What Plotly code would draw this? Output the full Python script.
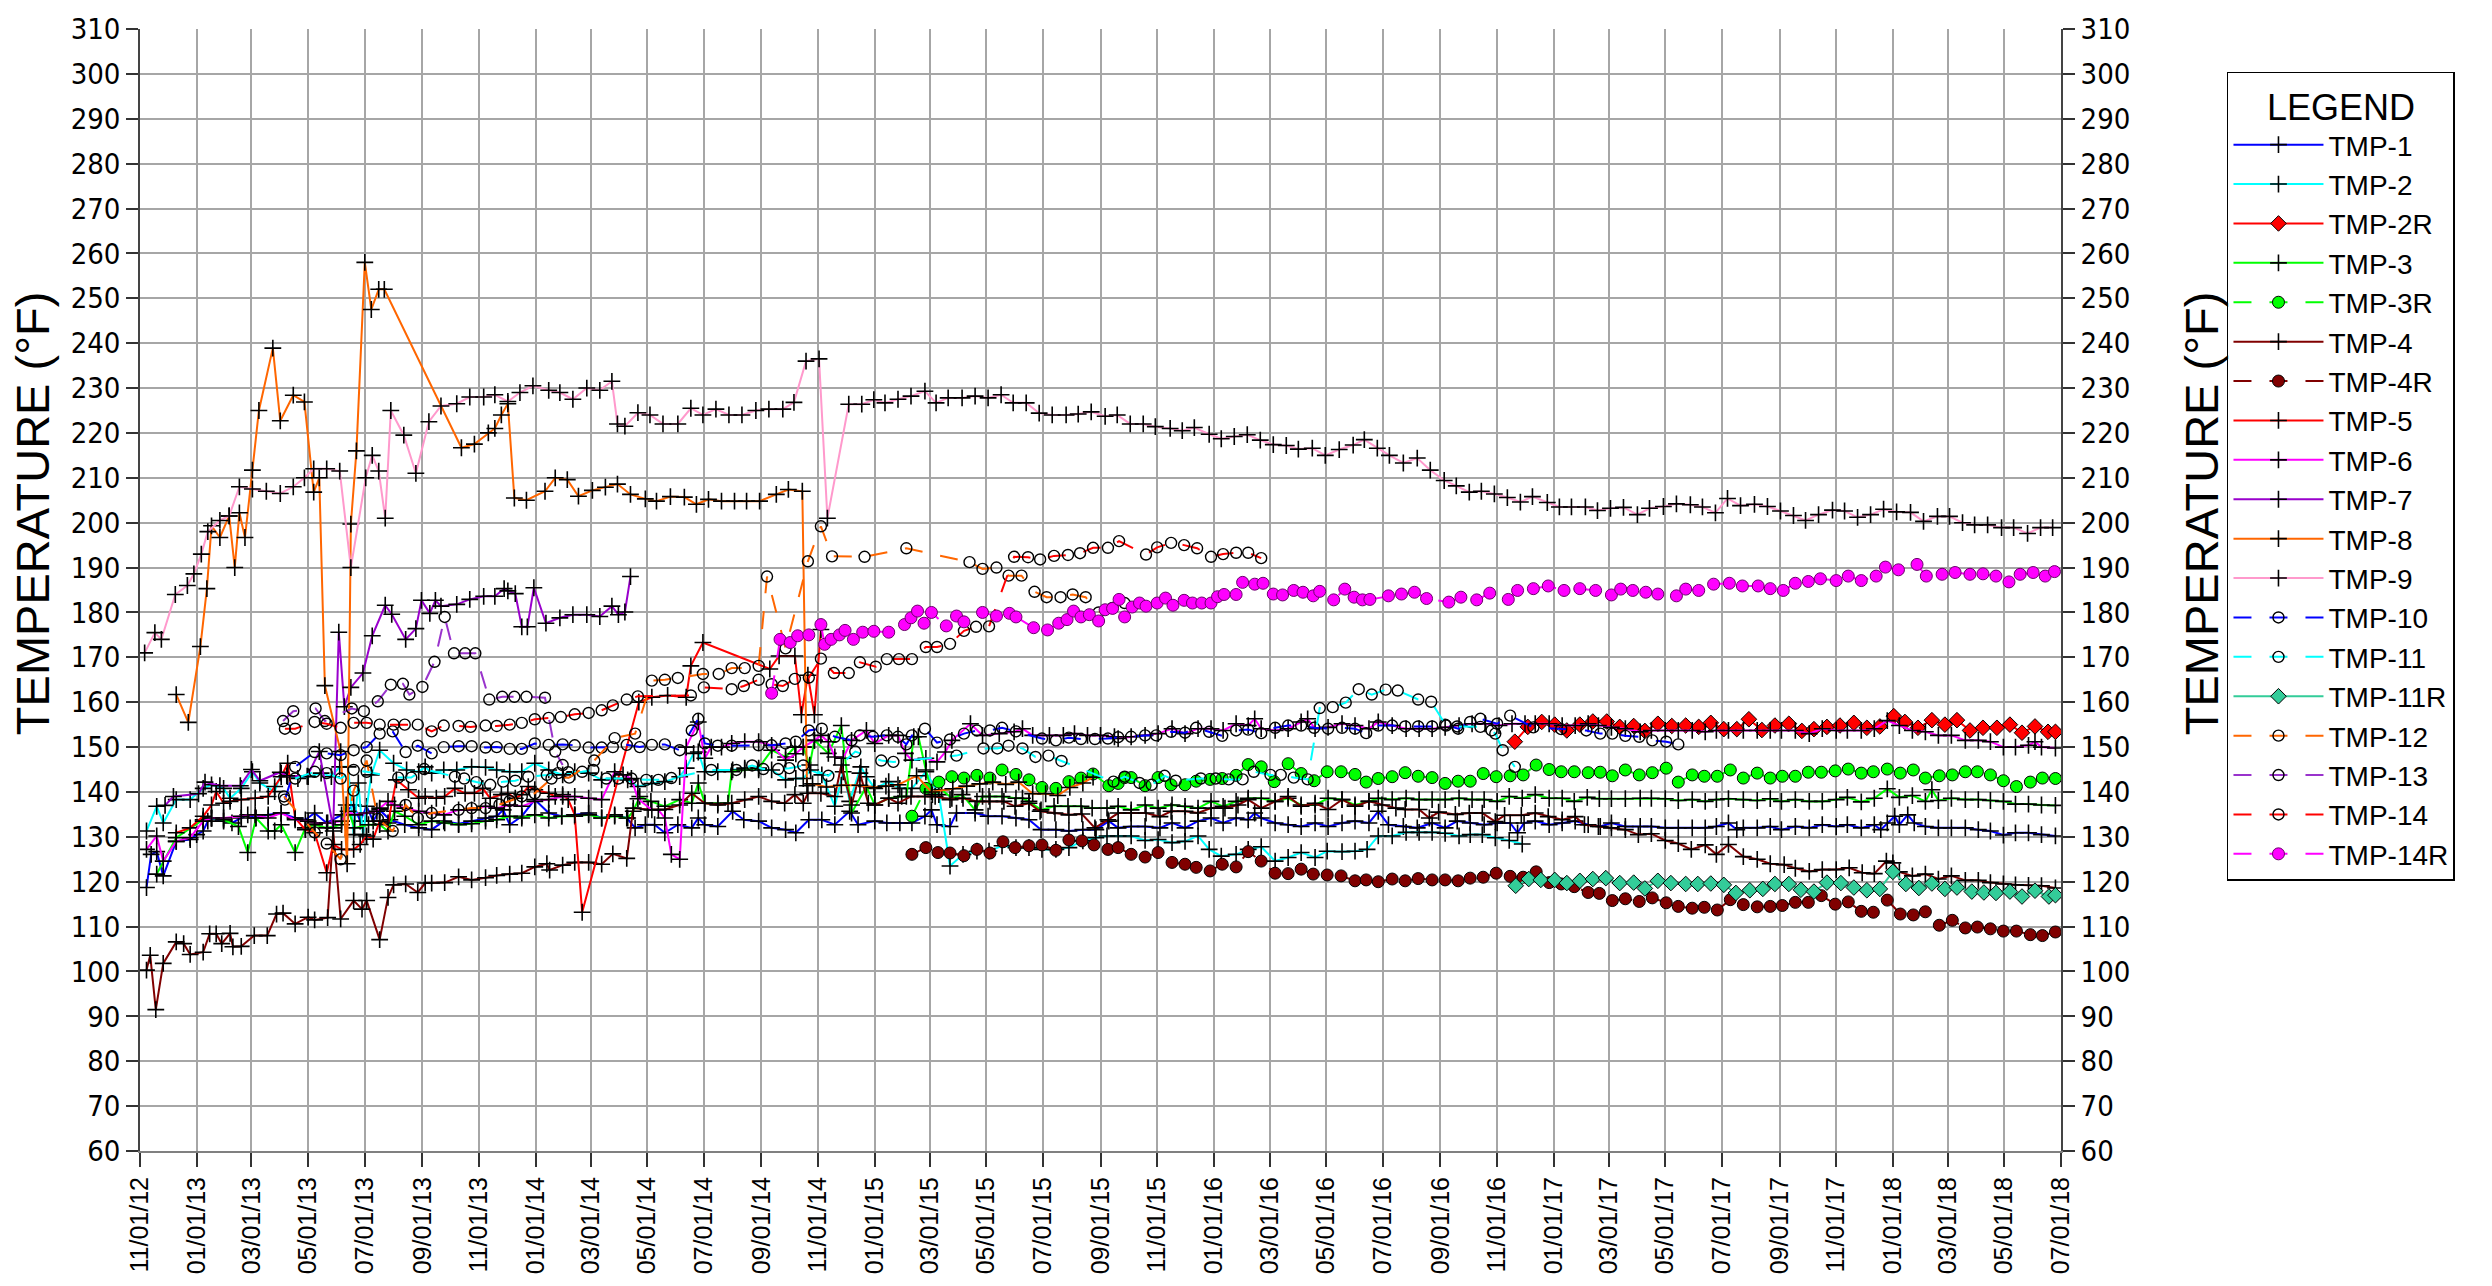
import pandas as pd
import plotly.graph_objects as go

# Elapsed days are counted from the first reading on 11/01/12.
BASE_DATE = pd.Timestamp("2012-11-01")

# ---- readings: (elapsed days, temperature in deg F) ----
TMP_1 = [(7,118.7),(12,126.1),(18,126.7),(25,121.3),(39,129),(54,129.4),(61,130.5),(68,131.3),(73,133.5),(77,134.1),(90,133.5),(99,133.1),(109,134.2),(116,134.9),(124,134.2),(138,134.9),(152,135.3),(167,134.2),(178,133.8),(188,135.3),(201,133.1),(217,134.9),(230,137.1),(237,133.5),(244,136.8),(251,133.5),(258,136),(269,133.8),(285,132.7),(300,132),(314,131.6),(327,133.5),(343,132.9),(357,133.5),(372,134.2),(384,134.6),(391,136),(398,132.7),(411,134.6),(425,138.3),(440,135.3),(454,134.6),(468,134.9),(483,135.3),(497,134.2),(511,134.9),(524,134.2),(533,132),(544,132.7),(554,132.7),(565,130.9),(579,132.7),(594,132),(601,134.2),(608,132.7),(622,132.3),(638,135.7),(650,133.8),(666,133.5),(680,132),(695,131.6),(706,130.9),(720,133.8),(734,133.8),(748,132.7),(764,135.7),(773,132.7),(791,133.5),(804,133.1),(818,133.1),(831,133.1),(845,134.6),(852,136),(858,132.7),(872,132.3),(879,135.3),(899,135.3),(913,134.6),(928,134.6),(943,134.2),(957,133.8),(970,131.6),(986,131.6),(1000,131.3),(1015,131.6),(1029,131.6),(1043,133.5),(1053,132),(1067,132.3),(1082,132.3),(1098,132),(1111,133.1),(1125,132),(1139,133.5),(1153,134.2),(1166,133.1),(1180,134.2),(1193,133.8),(1200,135.3),(1207,134.2),(1222,133.1),(1236,132.7),(1250,132.3),(1265,133.1),(1279,132.3),(1294,133.1),(1308,133.5),(1323,133.1),(1333,135.7),(1344,132.7),(1360,132.3),(1375,132),(1391,133.1),(1405,132),(1418,133.5),(1432,133.1),(1447,132.7),(1461,133.1),(1475,133.1),(1483,130.9),(1490,133.1),(1502,133.5),(1517,132.7),(1531,133.1),(1545,133.5),(1559,132.7),(1572,132.3),(1584,133.1),(1599,132.3),(1615,132.3),(1627,132.3),(1642,132),(1656,132),(1671,132),(1685,132),(1697,132.3),(1710,133.1),(1719,131.6),(1726,132),(1741,132),(1755,132.3),(1767,131.6),(1782,132.3),(1797,132),(1811,132.7),(1826,132.3),(1838,132.7),(1853,132),(1867,132.7),(1874,131.6),(1881,133.1),(1889,134.6),(1894,132.7),(1903,134.9),(1910,133.1),(1922,132.3),(1936,132),(1950,132),(1965,132),(1979,131.6),(1992,131.3),(2006,130.4),(2019,130.9),(2033,130.9),(2047,130.5),(2062,130.2)]

TMP_2 = [(7,131.3),(18,136.8),(25,133.1),(39,138.3),(54,138.3),(68,140.8),(77,141.6),(90,140.8),(97,138.6),(109,140.8),(121,144.5),(129,142),(145,140.1),(152,144.2),(159,143.4),(170,143),(181,143.4),(195,144.2),(206,143.4),(215,145.6),(224,145.6),(230,130.5),(235,142),(240,130.5),(249,143.8),(258,149.3),(273,146.4),(287,144.9),(300,144.5),(307,145.6),(314,144.2),(327,144.9),(341,144.9),(357,145.6),(372,145.5),(384,144.9),(398,144.5),(411,144.5),(425,146.4),(440,144.9),(455,143.8),(468,144.5),(483,144.2),(497,142.7),(511,143),(525,142.7),(536,141.2),(551,141.9),(565,142.3),(581,143.4),(588,145.3),(596,148.6),(601,148.9),(608,144.5),(622,144.5),(638,144.9),(651,145.3),(666,144.9),(680,144.9),(695,142.7),(706,143),(714,143),(722,144.9),(734,143.8),(748,136.8),(757,144.5),(764,137.9),(776,145.6),(782,143.4),(791,140.8),(806,142.3),(818,140.8),(831,140.8),(846,144.5),(860,139.4),(872,123.5),(886,126.1),(901,126.8),(914,126.8),(928,128),(943,127.6),(957,127.6),(971,127.2),(986,127.2),(1000,127.6),(1015,129.1),(1029,129.8),(1041,130.2),(1053,130.2),(1067,130.2),(1082,129.2),(1096,129.4),(1111,128.7),(1125,129),(1139,130.2),(1151,127.2),(1164,125.7),(1180,126.1),(1193,127.2),(1207,127.8),(1222,124.6),(1236,125.4),(1250,126.5),(1265,125.4),(1278,126.8),(1294,126.7),(1308,126.8),(1321,127.2),(1333,130.2),(1348,130.2),(1363,131),(1377,131),(1391,131),(1405,130.8),(1420,130.2),(1432,130.5),(1445,130.5),(1459,129.8),(1474,129.2),(1488,128.4)]

TMP_2R = [(1480,151.2),(1494,154.5),(1509,155.6),(1523,155),(1536,153.7),(1550,155),(1564,155.7),(1579,155.7),(1593,154.5),(1608,154.7),(1620,153.6),(1634,155.2),(1649,154.7),(1664,154.8),(1678,154.5),(1691,155.4),(1705,154),(1719,154),(1732,156.2),(1746,153.8),(1760,154.8),(1775,155.2),(1789,153.6),(1802,154),(1816,154.5),(1830,154.8),(1845,155.4),(1859,154.3),(1873,154.6),(1888,156.9),(1900,155.6),(1914,154.3),(1929,156),(1943,155),(1956,156),(1970,153.7),(1984,154.3),(1999,154.3),(2013,155),(2026,153.2),(2040,154.6),(2054,153.4),(2062,153.4)]

TMP_3 = [(18,121.7),(39,129.8),(68,133.8),(77,134.2),(90,133.8),(106,132.3),(116,126.5),(125,134.2),(138,131.3),(145,131.3),(152,132.7),(167,126.5),(178,132),(188,132.7),(201,132),(217,132.7),(222,137.1),(231,132),(246,132.7),(258,132.7),(267,131.3),(274,135.7),(285,134.6),(300,132.7),(314,133.5),(328,133.1),(343,132.7),(357,132.9),(372,133.5),(384,133.8),(398,134.6),(411,134.2),(425,134.9),(440,134.2),(454,134.6),(468,134.6),(483,134.9),(497,134.2),(511,134.6),(525,134.2),(531,135.7),(538,139),(550,137.9),(565,136.8),(581,138.3),(594,137.5),(601,142),(608,137.5),(622,137.5),(633,137.5),(637,144.5),(651,144.9),(666,145.3),(680,149.3),(695,147.8),(705,150),(714,150),(721,146),(726,151.5),(741,148.6),(755,154.8),(766,135.3),(782,141.2),(791,137.1),(806,138.6),(820,139),(825,139),(833,152.3),(838,152.3),(846,144.9),(853,139.4),(863,140.5),(874,138.6),(885,139.4),(899,136),(907,139),(914,139),(928,139),(943,138.6),(950,138.6),(957,137.9),(970,136),(984,136.8),(999,136.8),(1013,136.8),(1025,136.4),(1041,136.4),(1053,136.8),(1067,136),(1082,137.1),(1096,136.4),(1111,137.1),(1125,136.8),(1139,136.4),(1153,137.9),(1166,136.8),(1180,137.9),(1193,138.6),(1207,138.6),(1222,137.9),(1236,138.6),(1250,137.1),(1265,137.1),(1279,138.6),(1294,138.3),(1308,137.1),(1323,137.9),(1333,138.6),(1348,138.3),(1363,138.6),(1377,138.3),(1391,138.3),(1405,138.3),(1420,138.6),(1434,138.3),(1447,138.3),(1461,137.9),(1474,139),(1488,138.6),(1502,139.4),(1517,138.6),(1531,138.6),(1544,137.9),(1558,138.8),(1571,138.5),(1584,138.5),(1599,138.5),(1615,138.6),(1627,138.6),(1642,138.5),(1656,138.1),(1671,138.3),(1685,137.9),(1697,138.3),(1710,138.5),(1726,138.3),(1741,138.1),(1755,138.5),(1767,137.9),(1782,138.3),(1797,137.9),(1811,137.9),(1826,138.3),(1838,138.8),(1853,137.8),(1867,138.6),(1881,140.7),(1894,138.8),(1908,139.2),(1922,137.9),(1929,140.5),(1936,138.1),(1950,138.6),(1965,138.3),(1979,138.3),(1992,138.1),(2006,137.9),(2019,137.3),(2033,137.3),(2047,137.1),(2062,137)]

TMP_3R = [(831,134.6),(846,140.8),(860,142.2),(874,143.4),(887,143.1),(901,143.7),(915,143.1),(928,144.9),(943,143.9),(957,142.7),(971,141),(986,140.8),(1000,142.3),(1013,143.1),(1026,144),(1043,141.4),(1053,141.9),(1060,143.2),(1067,143.2),(1082,141.4),(1096,143.2),(1110,141.6),(1125,141.6),(1137,142.4),(1152,142.8),(1165,143),(1180,143.7),(1193,146.1),(1207,145.6),(1221,142.3),(1236,146.3),(1250,144.1),(1264,142.5),(1278,144.5),(1293,144.5),(1308,143.9),(1320,142.2),(1333,143),(1348,143.4),(1362,144.3),(1376,143.5),(1391,143.2),(1405,141.9),(1419,142.4),(1432,142.4),(1446,144.1),(1460,143.4),(1475,143.6),(1489,143.8),(1503,146),(1517,145),(1530,144.5),(1544,144.5),(1559,144.3),(1572,144.4),(1585,143.6),(1599,144.9),(1614,143.8),(1628,144.3),(1643,145.3),(1656,142.2),(1671,143.8),(1684,143.5),(1698,143.5),(1712,144.9),(1726,143.1),(1741,144.2),(1755,143.1),(1768,143.5),(1782,143.5),(1796,144.4),(1810,144.4),(1825,144.7),(1839,145.1),(1853,144.2),(1866,144.5),(1881,145.1),(1895,144.2),(1909,144.9),(1922,143.1),(1937,143.6),(1951,143.8),(1965,144.5),(1978,144.5),(1992,143.8),(2006,142.5),(2020,141.2),(2035,142.2),(2048,143.1),(2062,143)]

TMP_4 = [(7,100.3),(11,103.6),(17,91.5),(25,101.8),(39,106.6),(47,106.2),(54,103.8),(68,104.3),(75,108.4),(82,108.4),(88,106.2),(97,108.5),(100,105.5),(109,105.6),(123,108),(137,108),(147,112.8),(154,113),(167,110.6),(181,112.1),(188,111.5),(202,112),(208,131.3),(216,111.7),(230,115.8),(239,113.9),(244,115.8),(258,107.1),(267,116.5),(273,119.3),(286,119.5),(299,117.6),(307,119.7),(314,119.7),(328,119.8),(343,121.1),(357,120.4),(372,120.9),(384,121.4),(398,121.7),(411,121.9),(425,123.3),(438,124),(441,122.6),(455,123.7),(468,124.3),(483,124.3),(497,123.9),(509,126.2),(524,125.2),(531,136.4),(547,136.1),(565,136.1),(581,137.1),(594,139.7),(608,137.5),(622,137.1),(637,137.5),(651,138.3),(666,139),(680,137.9),(694,137.5),(705,139.4),(714,137.5),(719,139.7),(733,139.7),(748,139),(755,146),(766,137.1),(775,144.2),(784,137.5),(791,137.1),(806,138.6),(816,137.5),(830,139),(845,139),(856,139),(872,138.3),(886,138.6),(901,137.9),(915,137.9),(930,137.9),(942,136.8),(957,137.5),(969,135.7),(985,135.3),(1000,134.9),(1014,135.1),(1028,132),(1042,133.8),(1053,135.3),(1067,135.3),(1083,135.3),(1098,134.5),(1110,135.7),(1125,135.7),(1139,135.3),(1153,136.4),(1168,136.4),(1182,137.1),(1193,138.3),(1207,136.4),(1222,137.9),(1236,139),(1250,136.8),(1265,137.5),(1279,136.1),(1294,138.3),(1308,136.8),(1323,137.9),(1337,137.1),(1352,136.4),(1362,136.1),(1377,136.1),(1388,134.2),(1398,135.5),(1416,135),(1431,135.3),(1445,135.3),(1459,133.4),(1469,134.8),(1487,134.8),(1502,135.3),(1516,134.5),(1531,133.8),(1545,134.5),(1555,132.7),(1570,132.3),(1584,132),(1599,131.6),(1613,130.5),(1627,130.7),(1642,129.2),(1656,128.5),(1670,127.2),(1685,128.2),(1697,126.1),(1710,128.3),(1726,125.6),(1741,125),(1755,124),(1770,123.8),(1782,123),(1797,122.3),(1811,122.7),(1826,122.7),(1840,123.1),(1854,122),(1867,121.8),(1880,124.6),(1887,124.2),(1894,122.2),(1908,121.3),(1922,121.7),(1936,120.6),(1950,121.3),(1965,120.3),(1979,120.3),(1992,119.8),(2006,119.5),(2019,119.3),(2033,119.2),(2047,119.1),(2062,118.6)]

TMP_4R = [(831,126.1),(846,127.6),(859,126.5),(872,126.4),(887,125.8),(901,127.2),(915,126.4),(929,128.9),(942,127.6),(957,128),(971,128.2),(986,127),(1000,129.3),(1014,129.1),(1027,128.2),(1042,127.2),(1053,127.6),(1067,126.1),(1082,125.5),(1096,126.5),(1111,124.3),(1125,123.9),(1137,123.2),(1152,122.4),(1165,123.9),(1180,123.3),(1193,126.7),(1207,124.6),(1222,121.9),(1236,121.8),(1250,122.8),(1263,121.7),(1278,121.5),(1293,121.3),(1308,120.2),(1320,120.4),(1333,120),(1348,120.6),(1362,120.2),(1376,120.7),(1391,120.4),(1405,120.4),(1419,120.2),(1432,120.8),(1446,121),(1460,121.9),(1475,121.2),(1489,121),(1503,122.2),(1517,119.8),(1530,119.5),(1544,118.9),(1559,117.6),(1571,117.4),(1585,115.8),(1599,116.2),(1614,115.6),(1628,116.4),(1643,115.3),(1656,114.5),(1671,114.1),(1684,114.3),(1698,113.7),(1712,116),(1726,114.9),(1741,114.4),(1755,114.5),(1768,114.7),(1782,115.4),(1796,115.4),(1810,116.9),(1825,115),(1839,115.5),(1853,113.4),(1866,113.2),(1881,115.9),(1895,112.8),(1909,112.6),(1922,113.3),(1937,110.3),(1951,111.4),(1965,109.7),(1978,109.9),(1992,109.5),(2006,109),(2020,109),(2035,108.2),(2048,108),(2062,108.8)]

TMP_5 = [(39,130.9),(54,132),(68,134.6),(77,137.1),(82,140.1),(90,137.5),(97,137.9),(109,138.3),(124,138.6),(138,139),(145,141.2),(152,143.4),(159,146.4),(167,134.2),(178,131.6),(188,130.9),(201,122),(208,128.3),(217,127.2),(230,127.2),(237,128.3),(244,130.2),(251,129.5),(258,133.5),(267,133.1),(276,142.7),(289,140.5),(300,138.6),(307,139),(319,138.6),(328,139),(339,140.8),(350,139.7),(360,139.7),(369,140.8),(377,138.6),(389,139.4),(396,139.7),(404,138.6),(411,139.4),(418,141.2),(425,140.5),(440,139.7),(447,139),(455,139.4),(461,138.3),(468,134.9),(476,113.2),(537,160),(551,161.1),(568,161.5),(588,161.1),(593,168.1),(606,173.3),(678,167.4),(688,170.3),(705,170.3),(712,157.2),(719,166),(726,157.2),(733,176.2)]

TMP_6 = [(7,127.2),(18,130.2),(25,124.6),(39,129),(54,129.8),(68,133.5),(77,134.2),(90,134.2),(109,134.6),(124,134.9),(138,134.2),(152,135.3),(167,133.8),(181,133.5),(188,133.1),(202,133.1),(217,133.5),(224,135.7),(231,134.9),(244,135.3),(255,135.7),(258,136.4),(267,137.9),(274,137.1),(285,136.4),(300,135.7),(314,135.3),(327,134.9),(343,136),(357,136),(372,136.8),(384,136.4),(398,137.1),(411,136.8),(425,137.9),(440,138.3),(455,139),(468,139),(483,138.6),(497,138.3),(511,144.5),(520,143.8),(529,143),(536,138.5),(551,136),(558,136),(565,134.2),(572,126.1),(581,125),(588,150),(601,155.6),(608,147.5),(615,150),(626,150),(637,150.8),(651,151.2),(666,151.2),(680,150.4),(695,147.1),(706,148.5),(714,150),(726,151.5),(733,152.6),(741,151.2),(748,147.8),(757,147.5),(766,151.5),(782,153.7),(791,150.8),(806,152.6),(816,152.6),(824,148.6),(831,147.1),(846,147.5),(858,146.7),(867,148.9),(874,151.5),(894,155.2),(907,152.6),(925,153),(941,153.4),(950,154.1),(961,152.6),(979,152.6),(994,152.6),(1006,153),(1020,152.6),(1034,152.6),(1049,152.3),(1053,151.9),(1067,152.3),(1082,152.6),(1096,153),(1111,154.1),(1125,153),(1139,154.1),(1153,154.1),(1166,153.7),(1180,155.2),(1193,154.8),(1200,156.3),(1207,154.1),(1222,153.7),(1236,154.1),(1250,155.6),(1257,156.3),(1265,154.1),(1279,154.4),(1294,155.2),(1308,154.8),(1323,154.1),(1333,155.6),(1348,154.8),(1363,154.1),(1377,154.1),(1391,154.1),(1405,154.4),(1420,154.8),(1434,155.2),(1448,155.2),(1463,154.8),(1477,155.2),(1491,155.2),(1502,155.2),(1517,155.2),(1531,154.8),(1545,154.8),(1559,155.2),(1570,154.8),(1584,154.4),(1599,154.1),(1615,153.4),(1627,153.7),(1642,153.7),(1656,153.7),(1671,153.7),(1685,153.4),(1697,153.7),(1710,153.7),(1726,153.7),(1741,153.7),(1755,153.7),(1767,153.7),(1782,153.7),(1797,153),(1811,154.1),(1826,153.7),(1838,153.7),(1853,153.7),(1867,154.1),(1881,155.9),(1894,154.8),(1908,153.7),(1922,153.4),(1936,152.6),(1950,152.6),(1965,151.5),(1979,151.5),(1992,151.2),(2006,150),(2019,150),(2033,150.4),(2040,151.2),(2047,150),(2062,149.8)]

TMP_7 = [(27,137),(36,139),(63,139.6),(70,142.2),(86,141.4),(108,141.4),(120,145),(129,142.5),(151,144.4),(158,143.6),(180,143.5),(193,149),(208,132),(214,175.6),(220,159),(227,163.3),(240,166.5),(250,174.8),(264,181.6),(271,179.6),(286,174),(297,176.4),(303,182.7),(312,179.8),(318,182.7),(324,181.4),(341,181.8),(355,182.9),(370,183.6),(382,183.6),(392,185.3),(396,184.8),(404,184.2),(411,176.8),(417,176.8),(424,185.5),(437,177.6),(452,178.8),(466,179.5),(481,179.5),(495,179.1),(508,181.4),(515,179.5),(522,180.1),(528,188)]

TMP_8 = [(39,161.7),(52,155.5),(65,172.4),(72,185.3),(77,199.3),(86,196.7),(96,201.5),(102,190),(107,202.2),(113,196.7),(121,211.7),(128,225),(143,238.9),(151,222.7),(165,228.4),(177,226.9),(187,206.8),(193,210),(199,163.7),(216,149),(223,124),(227,199.7),(233,216),(242,258),(249,247.5),(257,252),(263,252),(346,216.7),(360,217.5),(375,220),(382,221),(389,224),(396,226.5),(403,205.5),(416,205),(436,207),(447,210),(460,209.6),(472,205.9),(487,207.2),(501,207.9),(514,208.6),(528,206.3),(544,205.3),(556,204.8),(571,205.8),(586,205.7),(599,204.1),(612,205.2),(626,204.8),(640,204.8),(653,204.8),(667,204.8),(685,206.3),(698,207.4),(713,207),(718,141.4),(724,141.8),(739,141.1),(755,141.5),(775,141.5),(790,141),(803,141.3),(816,141.6),(836,143.6),(852,140),(875,140.7),(890,141.3),(904,141.8),(918,142.2),(932,141.7),(946,142.2),(961,139.6),(975,139.6),(988,139.2),(1001,141),(1015,142),(1026,143.3)]

TMP_9 = [(5,171),(16,175.5),(23,174),(38,184),(51,186),(58,188.6),(66,193),(73,198),(86,200.5),(96,201.5),(107,208),(121,207.5),(136,207),(151,206.5),(165,208),(177,210),(187,212),(201,212),(215,211.5),(227,190),(243,210),(250,215),(257,211.5),(264,201),(270,225),(284,219.5),(297,211),(311,222.5),(324,226),(341,226.5),(355,228),(370,228),(382,228.5),(396,227),(409,229),(423,230.5),(440,229.5),(452,229),(466,227.5),(481,230),(495,229.5),(508,231.5),(514,222),(522,221.5),(536,224.5),(549,224),(563,222),(579,222),(593,225.5),(606,224),(620,225.3),(634,224),(648,224),(663,225),(677,225.3),(692,225.3),(704,226.8),(717,236),(731,236.5),(740,201),(763,226.4),(777,226.4),(790,227.4),(802,226.7),(816,227.5),(830,228.2),(845,229.3),(857,226.7),(870,227.8),(885,227.8),(899,228.2),(913,227.8),(927,228.5),(940,226.7),(954,226.7),(968,224.4),(982,224),(997,224),(1010,224.2),(1024,224.7),(1039,223.7),(1052,224),(1066,222),(1080,222),(1093,221.4),(1109,221),(1122,220.5),(1135,221.2),(1151,219.7),(1164,218.7),(1178,219.2),(1192,219.6),(1206,218.4),(1220,217.4),(1234,217.2),(1247,216.4),(1262,216.6),(1276,215),(1291,216.3),(1306,217.3),(1318,218.5),(1332,216.6),(1345,215),(1360,213.3),(1375,214.4),(1389,211.7),(1404,209.4),(1417,208.2),(1431,206.8),(1444,207),(1458,206.4),(1472,205.6),(1486,204.6),(1499,205.8),(1515,204.5),(1528,203.5),(1541,203.5),(1556,203.5),(1569,202.7),(1583,203.2),(1597,203.4),(1612,201.8),(1625,203.2),(1640,203.6),(1654,204.2),(1669,204),(1682,203.5),(1696,202.2),(1709,205.4),(1723,203.8),(1738,204.1),(1752,203.6),(1766,202.6),(1780,201.6),(1793,200.5),(1807,201.8),(1822,202.8),(1835,202.6),(1849,201.2),(1863,201.8),(1877,203),(1891,202.4),(1906,202.3),(1920,200.3),(1935,201.4),(1948,201.4),(1962,200),(1975,199.5),(1989,199.5),(2004,198.9),(2017,198.9),(2032,197.6),(2046,198.9),(2059,198.9)]

TMP_10 = [(156,138.3),(167,145.6),(188,148.9),(201,148.6),(216,148.2),(230,149.3),(244,150),(258,153),(272,153.5),(286,148.9),(299,150.3),(314,148.6),(327,150),(343,150.2),(357,150.2),(372,149.9),(384,150),(398,149.6),(411,149.6),(425,150.8),(440,150.5),(455,150.6),(468,150.4),(483,149.9),(497,149.9),(509,150),(524,150.5),(538,150),(551,150.5),(565,150.6),(581,149.3),(594,153.7),(601,156.3),(608,150.8),(622,150.3),(637,150.3),(666,150.4),(680,150.4),(695,150.8),(706,151.2),(720,153.7),(734,154.1),(748,152.3),(766,151.5),(775,152.6),(789,152.3),(804,152.6),(816,152.3),(825,150.6),(831,152.6),(845,154.1),(858,151),(872,151.7),(887,153),(901,153.7),(915,153.7),(928,154.3),(943,153.5),(971,151.9),(986,151.5),(1000,152.1),(1013,151.8),(1028,151.8),(1042,151.9),(1053,152.2),(1067,152.3),(1082,152.6),(1094,152.6),(1110,153.4),(1125,153.2),(1137,154.3),(1151,153.4),(1165,152.5),(1180,153.7),(1193,153.9),(1207,153.1),(1222,154.3),(1236,154.8),(1250,154.8),(1264,154.3),(1279,154.1),(1294,154.3),(1308,154.1),(1320,153.1),(1333,154.8),(1348,154.8),(1362,154.6),(1376,154.6),(1391,154.6),(1405,155),(1419,154.1),(1432,155.6),(1443,156.3),(1461,155.2),(1475,157),(1500,154.4),(1530,154),(1557,153.7),(1572,153),(1585,153),(1599,152.5),(1614,152.3),(1628,151.5),(1643,151.2),(1656,150.6)]

TMP_11 = [(167,143),(188,144.5),(201,144.2),(216,143),(230,144.9),(244,144.5),(278,143.2),(292,143.2),(306,145.1),(339,143.4),(349,143),(362,142.2),(377,141.6),(391,142.3),(404,142.5),(418,143.4),(438,143.8),(450,144.2),(461,144.4),(476,144.5),(488,144.9),(502,143),(515,143),(529,143),(545,142.7),(558,142.7),(572,143.1),(615,144.9),(642,144.9),(659,145.9),(671,145.1),(687,145.1),(699,145.3),(714,145.9),(741,143.6),(770,149),(798,147),(811,146.7),(879,148.1),(908,149.7),(923,149.7),(935,150.3),(950,149.7),(964,147.8),(978,148.1),(992,146.9),(1048,142.3),(1060,143.4),(1076,142),(1089,141.6),(1103,143.6),(1115,142.5),(1142,143),(1158,143),(1172,142.8),(1187,142.8),(1199,144.5),(1217,143.8),(1228,143.8),(1242,143.2),(1257,142.8),(1270,158.7),(1284,158.9),(1298,159.9),(1312,162.9),(1326,161.7),(1341,162.8),(1354,162.6),(1376,160.6),(1390,160.1),(1406,154.8),(1418,154.6),(1443,154.5),(1455,153.7),(1459,153),(1467,149.3),(1480,145.6)]

TMP_11R = [(1481,119.1),(1495,120.6),(1508,120.4),(1523,120.4),(1536,119.7),(1550,120.2),(1564,120.6),(1578,120.8),(1593,119.7),(1608,119.8),(1620,118.5),(1634,120.2),(1648,119.7),(1664,119.5),(1677,119.5),(1691,119.6),(1705,119.3),(1718,117.5),(1733,118.1),(1747,118.4),(1760,119.5),(1775,119.5),(1788,118.2),(1802,117.8),(1816,119.8),(1831,119.7),(1845,118.7),(1859,118.1),(1873,118.4),(1887,122.2),(1901,119.5),(1915,118.6),(1929,119.6),(1943,118.4),(1956,118.7),(1972,117.8),(1985,117.6),(1998,117.5),(2013,117.8),(2026,116.7),(2040,118),(2055,116.7),(2062,117)]

TMP_12 = [(155,139),(188,131),(201,128.5),(216,125),(230,140.3),(244,147),(256,134),(272,131.3),(286,137.1),(299,134.2),(314,135.3),(343,136),(357,136.4),(372,136.4),(387,137.2),(398,138),(411,139),(425,139.7),(443,143),(462,143.2),(489,147),(511,152),(533,153),(551,164.8),(565,165),(579,165.4),(606,166.3),(623,166.3),(637,167.6),(651,167.6),(666,168.1),(675,188),(695,172),(719,191.4),(733,199.2),(745,192.5),(780,192.4),(825,194.3),(893,191.2),(907,189.7),(922,190),(935,188.2),(949,188.2),(963,184.6),(976,183.4),(991,183.4),(1004,184),(1018,183.4),(1032,180),(1047,181),(1060,182.1)]

TMP_13 = [(154,155.8),(165,158),(189,158.6),(199,155.8),(228,158.6),(241,158),(256,160.2),(270,163.9),(283,164.1),(290,161.7),(304,163.4),(317,169),(328,179),(338,170.9),(350,170.9),(361,170.9),(376,160.6),(390,161.2),(403,161.2),(416,161.2),(436,161),(447,149),(455,146)]

TMP_14 = [(156,154.1),(167,154.1),(188,155.6),(201,155.2),(216,154.3),(230,155.4),(244,155.4),(258,155),(273,155),(285,155),(299,155),(314,153.5),(327,154.8),(343,154.7),(356,154.5),(372,154.8),(384,154.7),(398,155),(411,155.4),(425,156.2),(440,156.5),(453,156.7),(468,157.3),(483,157.6),(497,158.2),(509,159.3),(524,160.6),(536,161.3),(593,161.5),(607,163.3),(637,162.9),(650,163.6),(666,165),(680,164),(692,163.6),(705,165.2),(720,165.5),(733,169.7),(747,166.5),(763,166.5),(775,168.9),(792,167.9),(804,169.6),(817,169.6),(831,169.6),(846,172.3),(858,172.3),(872,173),(887,175.9),(900,176.8),(914,176.9),(941,192.4),(956,192.3),(969,191.8),(984,192.6),(999,192.8),(1012,193.2),(1026,194.4),(1042,194.4),(1054,195.9),(1083,192.9),(1095,194.5),(1110,195.5),(1124,195),(1138,194.3),(1153,192.4),(1166,193),(1180,193.3),(1193,193.3),(1207,192.1)]

TMP_14R = [(680,162),(689,174),(700,173.3),(708,174.8),(720,175),(733,177.3),(737,172.9),(744,174),(753,175),(759,176),(768,174),(778,175.6),(790,175.8),(806,175.6),(823,177.3),(830,178.8),(837,180.3),(844,177.6),(852,180),(868,177),(879,179.2),(887,177.9),(907,180),(922,179.2),(936,179.8),(943,179),(962,176.6),(977,176.1),(989,177.6),(998,178.4),(1005,180.3),(1013,179),(1022,179.5),(1032,178.1),(1039,180.6),(1047,180.9),(1054,182.9),(1060,179),(1068,181.2),(1076,182.1),(1083,181.4),(1095,182.1),(1104,183.2),(1112,181.6),(1124,182.7),(1133,182.1),(1143,182.1),(1153,182.1),(1160,183.5),(1167,184),(1180,184),(1187,186.7),(1200,186.3),(1209,186.5),(1220,184.1),(1230,183.9),(1242,184.9),(1252,184.5),(1263,183.7),(1270,184.7),(1285,182.8),(1297,185.2),(1307,183.4),(1316,182.8),(1324,182.9),(1344,183.7),(1358,184.1),(1372,184.5),(1385,183.1),(1409,182.3),(1422,183.4),(1439,182.8),(1453,184.3),(1473,182.9),(1483,184.9),(1500,185.3),(1516,185.9),(1533,184.9),(1550,185.3),(1567,184.9),(1584,183.9),(1594,185.2),(1607,184.9),(1621,184.5),(1634,184.1),(1654,183.7),(1664,185.2),(1678,184.9),(1694,186.3),(1711,186.5),(1725,185.9),(1742,185.9),(1755,185.3),(1769,184.9),(1782,186.5),(1796,186.9),(1809,187.5),(1826,187.1),(1839,188.1),(1853,187.1),(1869,188.1),(1879,190.1),(1893,189.5),(1913,190.7),(1923,188.1),(1940,188.5),(1954,188.9),(1970,188.5),(1984,188.6),(1998,188.1),(2012,186.8),(2024,188.5),(2038,188.9),(2051,188.1),(2061,189.1)]

# ---- styling per monitoring point ----
PLUS = dict(symbol="cross-thin", size=12, color="black", line=dict(color="black", width=1.6))
OPEN = dict(symbol="circle", size=11, color="rgba(0,0,0,0)", line=dict(color="black", width=1.4))
DASH = "18px,18px"

def filled(symbol, fill, edge="black", size=11):
    return dict(symbol=symbol, size=size, color=fill, line=dict(color=edge, width=1))

SERIES = [
    ("TMP-1", TMP_1, "#0000ff", "solid", PLUS),
    ("TMP-2", TMP_2, "#00ffff", "solid", PLUS),
    ("TMP-2R", TMP_2R, "#ff0000", "solid", filled("diamond", "#ff0000", size=12)),
    ("TMP-3", TMP_3, "#00ff00", "solid", PLUS),
    ("TMP-3R", TMP_3R, "#00ff00", DASH, filled("circle", "#00ff00", size=12)),
    ("TMP-4", TMP_4, "#800000", "solid", PLUS),
    ("TMP-4R", TMP_4R, "#800000", DASH, filled("circle", "#800000", size=12)),
    ("TMP-5", TMP_5, "#ff0000", "solid", PLUS),
    ("TMP-6", TMP_6, "#ff00ff", "solid", PLUS),
    ("TMP-7", TMP_7, "#9900cc", "solid", PLUS),
    ("TMP-8", TMP_8, "#ff6600", "solid", PLUS),
    ("TMP-9", TMP_9, "#ff99cc", "solid", PLUS),
    ("TMP-10", TMP_10, "#0000ff", DASH, OPEN),
    ("TMP-11", TMP_11, "#00ffff", DASH, OPEN),
    ("TMP-11R", TMP_11R, "#33cc99", "solid", filled("diamond", "#33cc99", size=12)),
    ("TMP-12", TMP_12, "#ff6600", DASH, OPEN),
    ("TMP-13", TMP_13, "#9933cc", DASH, OPEN),
    ("TMP-14", TMP_14, "#ff0000", DASH, OPEN),
    ("TMP-14R", TMP_14R, "#ff00ff", DASH, filled("circle", "#ff00ff", edge="#6a006a", size=12)),
]

fig = go.Figure()
for name, readings, color, dash, marker in SERIES:
    days = [d for d, _ in readings]
    temps = [t for _, t in readings]
    dates = BASE_DATE + pd.to_timedelta(days, unit="D")
    fig.add_trace(go.Scatter(
        x=dates, y=temps, name=name,
        mode="lines+markers",
        line=dict(color=color, width=2, dash=dash),
        marker=marker,
    ))

# empty trace so the mirrored right-hand temperature axis is drawn
fig.add_trace(go.Scatter(x=[], y=[], yaxis="y2", showlegend=False, hoverinfo="skip"))

TICK_FONT = dict(family="Liberation Sans Narrow, DejaVu Sans Condensed, Arial Narrow, sans-serif",
                 size=29, color="black")
yaxis_common = dict(
    range=[60, 310], dtick=10, tick0=60,
    ticks="outside", ticklen=12, tickwidth=1.5, tickcolor="#333",
    tickfont=TICK_FONT, showline=True, linecolor="#444", linewidth=1.5,
    zeroline=False,
)

fig.update_layout(
    width=2492, height=1286,
    margin=dict(l=140, r=431, t=24, b=134),
    paper_bgcolor="white", plot_bgcolor="white",
    font=dict(family="Liberation Sans, Arial, sans-serif", color="black"),
    xaxis=dict(
        type="date",
        range=["2012-11-01", "2018-07-01"],
        tick0="2012-11-01", dtick="M2", tickformat="%m/%d/%y",
        tickangle=-90, ticks="outside", ticklen=14, tickwidth=1.5, tickcolor="#333",
        tickfont=dict(family="Liberation Sans, Arial, sans-serif", size=25, color="black"),
        showgrid=True, gridcolor="#a6a6a6", gridwidth=1.5,
        showline=True, linecolor="#808080", linewidth=2, zeroline=False,
    ),
    yaxis=dict(showgrid=True, gridcolor="#a6a6a6", gridwidth=1.5, **yaxis_common),
    yaxis2=dict(overlaying="y", side="right", showgrid=False, **yaxis_common),
    legend=dict(
        x=1.0864, y=0.962, xanchor="left", yanchor="top",
        bgcolor="white", bordercolor="black", borderwidth=1.5,
        font=dict(family="Liberation Sans, Arial, sans-serif", size=28, color="black"),
        title=dict(text="LEGEND", side="top center",
                   font=dict(family="Liberation Sans, Arial, sans-serif", size=36)),
        itemwidth=90, traceorder="normal",
    ),
    annotations=[
        dict(text="TEMPERATURE (°F)", textangle=-90, xref="paper", yref="paper",
             x=-0.0562, y=0.5685, xanchor="center", yanchor="middle", showarrow=False,
             font=dict(family="Liberation Sans, Arial, sans-serif", size=47, color="black")),
        dict(text="TEMPERATURE (°F)", textangle=-90, xref="paper", yref="paper",
             x=1.0729, y=0.5685, xanchor="center", yanchor="middle", showarrow=False,
             font=dict(family="Liberation Sans, Arial, sans-serif", size=47, color="black")),
    ],
    showlegend=True,
)

fig.write_html("out.html")
